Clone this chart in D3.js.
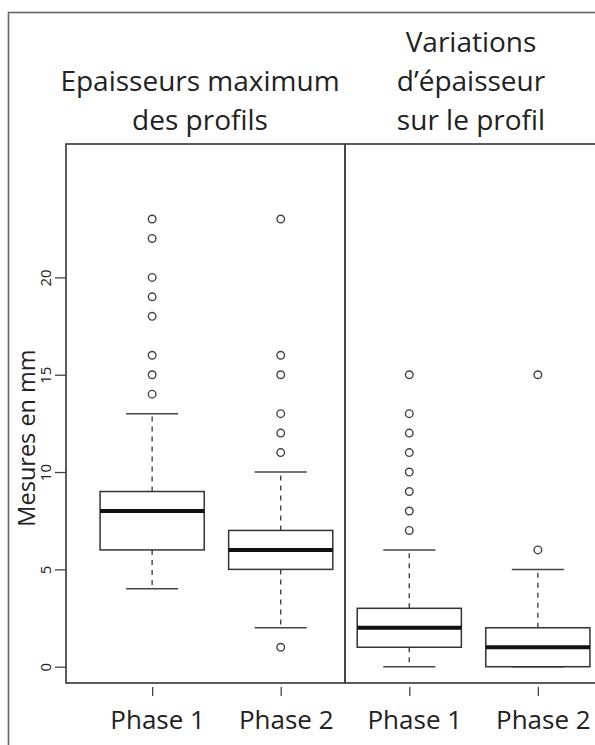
<!DOCTYPE html>
<html>
<head>
<meta charset="utf-8">
<script src="https://cdn.jsdelivr.net/npm/d3@7"></script>
<style>
  html, body { margin: 0; padding: 0; background: #fff; }
  svg { display: block; }
  text { font-family: "Open Sans", "Noto Sans", sans-serif; fill: #222; }
</style>
</head>
<body>
<svg id="chart" width="595" height="745"></svg>
<script>
// ---- data ----
const categories = ["Phase 1", "Phase 2", "Phase 1", "Phase 2"];
const panelTitles = [
  ["Epaisseurs maximum", "des profils"],
  ["Variations", "d\u2019\u00e9paisseur", "sur le profil"]
];
const whiskerLow  = [4, 2, 0, 0];
const q1          = [6, 5, 1, 0];
const median      = [8, 6, 2, 1];
const q3          = [9, 7, 3, 2];
const whiskerHigh = [13, 10, 6, 5];
const outliers = [
  [14, 15, 16, 18, 19, 20, 22, 23],
  [1, 11, 12, 13, 15, 16, 23],
  [7, 8, 9, 10, 11, 12, 13, 15],
  [6, 15]
];
const yTicks = [0, 5, 10, 15, 20];
const yLabel = "Mesures en mm";

// ---- layout ----
const svg = d3.select("#chart");
const plotLeft = 66, plotTop = 144, plotBottom = 683;

const x = d3.scaleLinear().domain([0.33, 4.67]).range([66, 624]);
const y = d3.scaleLinear().domain([0, 20]).range([666.7, 277.4]);
const boxW = x(1.405) - x(1);   // half width of box
const capW = boxW / 2;

// outer frame
svg.append("rect")
  .attr("x", 8.5).attr("y", 12.5)
  .attr("width", 700).attr("height", 800)
  .attr("fill", "none").attr("stroke", "#666").attr("stroke-width", 1.6);

// plot frame
const plotRight = x(4.67);
svg.append("rect")
  .attr("x", plotLeft).attr("y", plotTop)
  .attr("width", plotRight - plotLeft).attr("height", plotBottom - plotTop)
  .attr("fill", "none").attr("stroke", "#333").attr("stroke-width", 1.6);

// divider
svg.append("line")
  .attr("x1", x(2.5)).attr("x2", x(2.5))
  .attr("y1", plotTop).attr("y2", plotBottom)
  .attr("stroke", "#333").attr("stroke-width", 1.8);

// y axis
const yAxis = d3.axisLeft(y).tickValues(yTicks).tickSize(11);
const gy = svg.append("g").attr("transform", `translate(${plotLeft},0)`).call(yAxis);
gy.select(".domain").remove();
gy.selectAll(".tick line").attr("stroke", "#444").attr("stroke-width", 1.3);
gy.selectAll(".tick text")
  .attr("x", null).attr("dy", null)
  .attr("transform", "translate(-15,0) rotate(-90)")
  .attr("text-anchor", "middle")
  .attr("font-size", 15)
  .attr("font-family", "Open Sans, sans-serif")
  .attr("fill", "#333");

// y label
svg.append("text")
  .attr("transform", "translate(35,438) rotate(-90)")
  .attr("text-anchor", "middle")
  .attr("font-size", 23.5)
  .text(yLabel);

// x axis ticks + labels
const xAxis = d3.axisBottom(x).tickValues([1, 2, 3, 4]).tickSize(9)
  .tickFormat((d, i) => categories[i]).tickPadding(15);
const gx = svg.append("g").attr("transform", `translate(0,${plotBottom + 4})`).call(xAxis);
gx.select(".domain").remove();
gx.selectAll(".tick line").attr("stroke", "#444").attr("stroke-width", 1.3);
gx.selectAll(".tick text")
  .attr("font-size", 26)
  .attr("font-family", "Open Sans, sans-serif")
  .attr("fill", "#222")
  .attr("dy", "0.71em")
  .attr("x", 5);

// titles
const titleCenters = [200, 471];
const titleBaselines = [[91, 130], [52, 91, 130]];
panelTitles.forEach((lines, p) => {
  lines.forEach((t, i) => {
    svg.append("text")
      .attr("x", titleCenters[p]).attr("y", titleBaselines[p][i])
      .attr("text-anchor", "middle")
      .attr("font-size", 28)
      .text(t);
  });
});

// boxes
const idx = d3.range(categories.length);
const g = svg.append("g");
idx.forEach(i => {
  const cx = x(i + 1);
  g.append("line").attr("x1", cx).attr("x2", cx)
    .attr("y1", y(q3[i])).attr("y2", y(whiskerHigh[i]))
    .attr("stroke", "#444").attr("stroke-width", 1.4).attr("stroke-dasharray", "5,5");
  g.append("line").attr("x1", cx).attr("x2", cx)
    .attr("y1", y(q1[i])).attr("y2", y(whiskerLow[i]))
    .attr("stroke", "#444").attr("stroke-width", 1.4).attr("stroke-dasharray", "5,5");
  [whiskerHigh[i], whiskerLow[i]].forEach(v => {
    g.append("line").attr("x1", cx - capW).attr("x2", cx + capW)
      .attr("y1", y(v)).attr("y2", y(v))
      .attr("stroke", "#444").attr("stroke-width", 1.5);
  });
  g.append("rect")
    .attr("x", cx - boxW).attr("width", 2 * boxW)
    .attr("y", y(q3[i])).attr("height", y(q1[i]) - y(q3[i]))
    .attr("fill", "#fff").attr("stroke", "#333").attr("stroke-width", 1.5);
  g.append("line").attr("x1", cx - boxW).attr("x2", cx + boxW)
    .attr("y1", y(median[i])).attr("y2", y(median[i]))
    .attr("stroke", "#111").attr("stroke-width", 4);
  g.selectAll(null).data(outliers[i]).enter().append("circle")
    .attr("cx", cx).attr("cy", d => y(d)).attr("r", 3.8)
    .attr("fill", "none").attr("stroke", "#444").attr("stroke-width", 1.4);
});
</script>
</body>
</html>
